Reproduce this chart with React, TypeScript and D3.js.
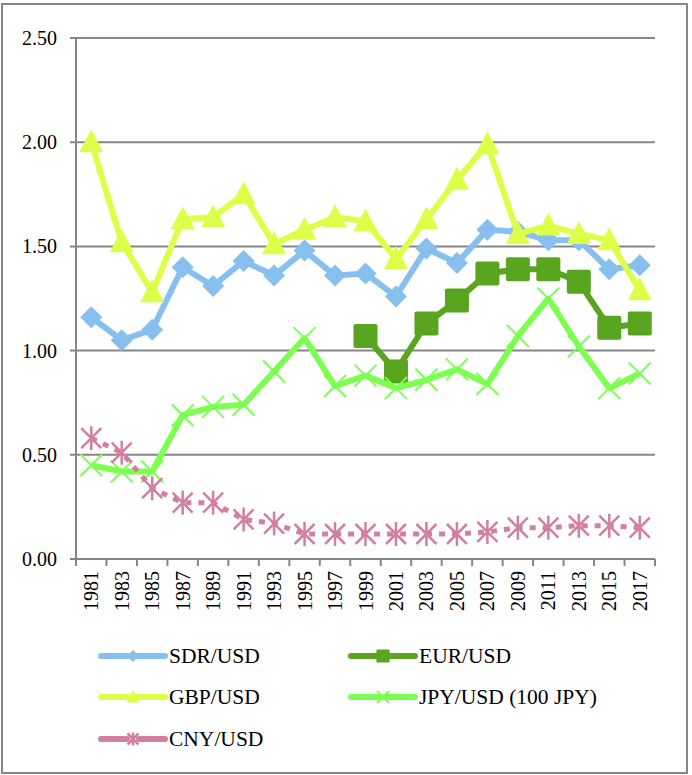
import React from 'react';
import * as d3 from 'd3';

const years = ['1981', '1983', '1985', '1987', '1989', '1991', '1993', '1995', '1997', '1999',
  '2001', '2003', '2005', '2007', '2009', '2011', '2013', '2015', '2017'];

const sdrUsd = [1.16, 1.05, 1.10, 1.40, 1.31, 1.43, 1.36, 1.48, 1.36, 1.37,
  1.26, 1.49, 1.42, 1.58, 1.57, 1.53, 1.53, 1.39, 1.41];
const eurUsd = [null, null, null, null, null, null, null, null, null, 1.07,
  0.90, 1.13, 1.24, 1.37, 1.39, 1.39, 1.33, 1.11, 1.13];
const gbpUsd = [2.00, 1.52, 1.28, 1.63, 1.64, 1.75, 1.51, 1.58, 1.64, 1.62,
  1.44, 1.63, 1.82, 1.99, 1.56, 1.60, 1.56, 1.53, 1.29];
const jpyUsd = [0.45, 0.42, 0.42, 0.69, 0.73, 0.74, 0.90, 1.06, 0.83, 0.88,
  0.82, 0.86, 0.91, 0.84, 1.07, 1.25, 1.02, 0.82, 0.89];
const cnyUsd = [0.58, 0.51, 0.34, 0.27, 0.27, 0.19, 0.17, 0.12, 0.12, 0.12,
  0.12, 0.12, 0.12, 0.13, 0.15, 0.15, 0.16, 0.16, 0.15];

const yTicks = [0, 0.5, 1, 1.5, 2, 2.5];

type Marker = 'diamond' | 'square' | 'triangle' | 'x' | 'star';

interface Series {
  name: string;
  values: (number | null)[];
  color: string;
  marker: Marker;
  dash?: string;
  width: number;
}

const series: Series[] = [
  { name: 'SDR/USD', values: sdrUsd, color: '#87BFEE', marker: 'diamond', width: 6 },
  { name: 'EUR/USD', values: eurUsd, color: '#5AA51F', marker: 'square', width: 6 },
  { name: 'GBP/USD', values: gbpUsd, color: '#DDFF47', marker: 'triangle', width: 6 },
  { name: 'JPY/USD (100 JPY)', values: jpyUsd, color: '#7DFF52', marker: 'x', width: 6 },
  { name: 'CNY/USD', values: cnyUsd, color: '#D27FA1', marker: 'star', dash: '6 7', width: 5 },
];

const textStyle = { fontFamily: 'Liberation Serif', fontSize: 20 };
const legendStyle = { fontFamily: 'Liberation Serif', fontSize: 21.5 };
const GRID = '#868686';

function MarkerShape({ type, x, y, color, s = 1 }: { type: Marker; x: number; y: number; color: string; s?: number }) {
  const t = `translate(${x},${y}) scale(${s})`;
  switch (type) {
    case 'diamond':
      return <path transform={t} d="M0,-11L11,0L0,11L-11,0Z" fill={color} />;
    case 'square':
      return <rect transform={t} x={-12} y={-12} width={24} height={24} rx={2} fill={color} />;
    case 'triangle':
      return <path transform={t} d="M0,-13L12,10L-12,10Z" fill={color} />;
    case 'x':
      return <path transform={t} d="M-11,-11L11,11M11,-11L-11,11" stroke={color} strokeWidth={2 / s} fill="none" />;
    case 'star':
      return <path transform={t} d="M-10,-10L10,10M10,-10L-10,10M0,-12L0,12" stroke={color} strokeWidth={2.5 / s} fill="none" />;
  }
}

export default function App() {
  const width = 692;
  const height = 775;
  const x = d3.scaleBand<string>().domain(years).range([76, 655]).padding(0);
  const y = d3.scaleLinear().domain([0, 2.5]).range([559, 38]);
  const cx = (yr: string) => (x(yr) ?? 0) + x.bandwidth() / 2;

  const line = d3.line<{ yr: string; v: number | null }>()
    .defined(d => d.v !== null)
    .x(d => cx(d.yr))
    .y(d => y(d.v as number));

  const legendPos = [
    { lx: 101, row: 656 },
    { lx: 351, row: 656 },
    { lx: 101, row: 697 },
    { lx: 351, row: 697 },
    { lx: 101, row: 739 },
  ];

  return (
    <svg width={width} height={height} style={{ position: 'absolute', left: 0, top: 0, background: '#fff' }}>
      <rect x={2} y={4} width={685} height={769} fill="#fff" stroke={GRID} strokeWidth={2} />

      {yTicks.map(t => (
        <g key={t}>
          <line x1={70} x2={655} y1={y(t)} y2={y(t)} stroke={GRID} strokeWidth={2} />
          <text x={57} y={y(t)} textAnchor="end" dominantBaseline="central" style={textStyle}>
            {t.toFixed(2)}
          </text>
        </g>
      ))}
      <line x1={76} x2={76} y1={38} y2={566} stroke={GRID} strokeWidth={2} />
      {years.map(yr => (
        <line key={'t' + yr} x1={x(yr)! + x.bandwidth()} x2={x(yr)! + x.bandwidth()} y1={559} y2={566} stroke={GRID} strokeWidth={2} />
      ))}
      {years.map(yr => (
        <text key={'l' + yr} transform={`translate(${cx(yr)},571) rotate(-90)`} textAnchor="end"
          dominantBaseline="central" style={textStyle}>{yr}</text>
      ))}

      {series.map(s => {
        const pts = years.map((yr, i) => ({ yr, v: s.values[i] }));
        return (
          <g key={s.name}>
            <path d={line(pts) ?? ''} fill="none" stroke={s.color} strokeWidth={s.width}
              strokeDasharray={s.dash} strokeLinejoin="round" />
            {pts.filter(p => p.v !== null).map(p => (
              <MarkerShape key={p.yr} type={s.marker} x={cx(p.yr)} y={y(p.v as number)} color={s.color} />
            ))}
          </g>
        );
      })}

      {series.map((s, i) => {
        const { lx, row } = legendPos[i];
        return (
          <g key={'lg' + s.name}>
            {s.dash ? (
              <>
                <line x1={lx} x2={lx + 26} y1={row} y2={row} stroke={s.color} strokeWidth={6} strokeLinecap="round" />
                <line x1={lx + 38} x2={lx + 64} y1={row} y2={row} stroke={s.color} strokeWidth={6} strokeLinecap="round" />
              </>
            ) : (
              <line x1={lx} x2={lx + 64} y1={row} y2={row} stroke={s.color} strokeWidth={6} strokeLinecap="round" />
            )}
            <MarkerShape type={s.marker} x={lx + 32} y={row} color={s.color} s={0.55} />
            <text x={lx + 68} y={row} dominantBaseline="central" style={legendStyle}>{s.name}</text>
          </g>
        );
      })}
    </svg>
  );
}
